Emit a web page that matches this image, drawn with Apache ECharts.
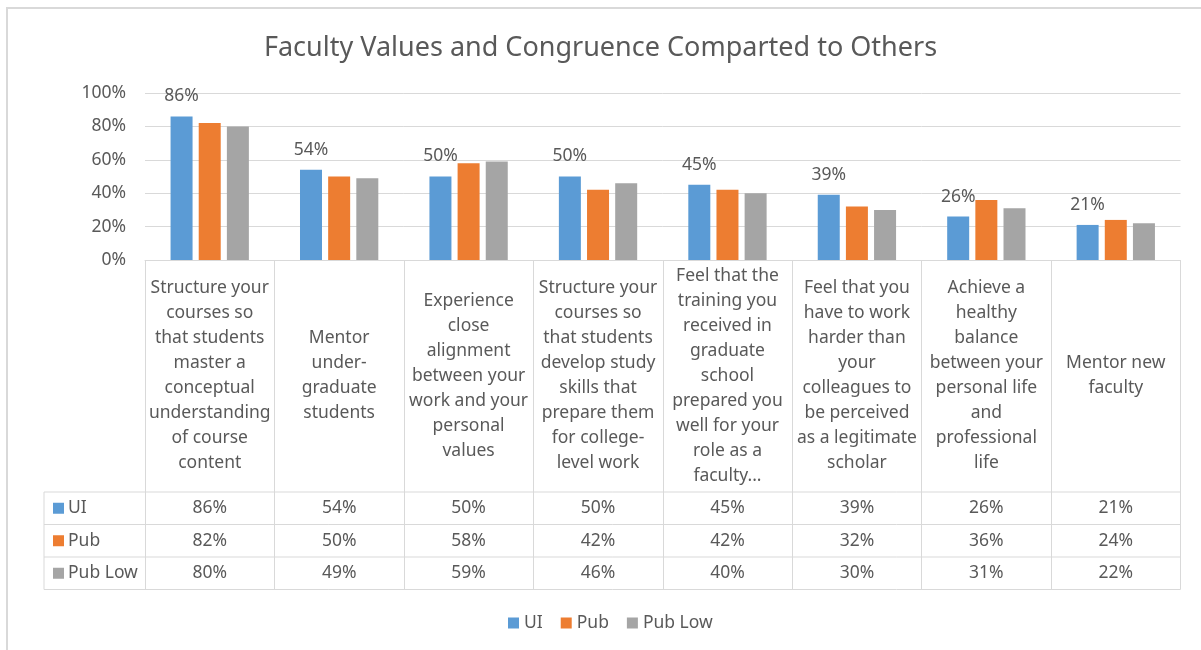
<!DOCTYPE html>
<html>
<head>
<meta charset="utf-8">
<title>Faculty Values</title>
<script src="https://cdn.jsdelivr.net/npm/echarts@6/dist/echarts.min.js"></script>
<style>
  html, body { margin: 0; padding: 0; background: #fff; }
  #chart { width: 1201px; height: 650px; }
</style>
</head>
<body>
<div id="chart"></div>
<script>
var categories = [
  "Structure your\ncourses so\nthat students\nmaster a\nconceptual\nunderstanding\nof course\ncontent",
  "Mentor\nunder-\ngraduate\nstudents",
  "Experience\nclose\nalignment\nbetween your\nwork and your\npersonal\nvalues",
  "Structure your\ncourses so\nthat students\ndevelop study\nskills that\nprepare them\nfor college-\nlevel work",
  "Feel that the\ntraining you\nreceived in\ngraduate\nschool\nprepared you\nwell for your\nrole as a\nfaculty...",
  "Feel that you\nhave to work\nharder than\nyour\ncolleagues to\nbe perceived\nas a legitimate\nscholar",
  "Achieve a\nhealthy\nbalance\nbetween your\npersonal life\nand\nprofessional\nlife",
  "Mentor new\nfaculty"
];
var seriesNames = ["UI", "Pub", "Pub Low"];
var seriesColors = ["#5B9BD5", "#ED7D31", "#A5A5A5"];
var uiValues = [0.86, 0.54, 0.50, 0.50, 0.45, 0.39, 0.26, 0.21];
var pubValues = [0.82, 0.50, 0.58, 0.42, 0.42, 0.32, 0.36, 0.24];
var pubLowValues = [0.80, 0.49, 0.59, 0.46, 0.40, 0.30, 0.31, 0.22];
var allValues = [uiValues, pubValues, pubLowValues];

var font = "Noto Sans";
var textColor = "#595959";
var lineColor = "#D9D9D9";
var fs = 17.5;

// table layout
var plotLeft = 145, plotRight = 1180.5, plotTop = 93, plotBottom = 260;
var tableLeft = 44;
var rowLines = [492, 524.5, 557, 589.5];

function pct(v) { return Math.round(v * 100) + "%"; }

var xAxes = [{
  type: "category",
  data: categories,
  position: "bottom",
  axisLine: { lineStyle: { color: lineColor, width: 1 } },
  axisTick: { show: true, length: rowLines[3] - plotBottom, lineStyle: { color: lineColor } },
  axisLabel: {
    interval: 0, fontFamily: font, fontSize: fs, color: textColor,
    lineHeight: 25, verticalAlign: "middle", align: "center",
    margin: 376 - plotBottom
  }
}];
allValues.forEach(function (vals, i) {
  xAxes.push({
    type: "category",
    data: vals.map(pct),
    position: "bottom",
    offset: rowLines[i] - plotBottom,
    axisLine: { show: false },
    axisTick: { show: false },
    axisLabel: {
      interval: 0, fontFamily: font, fontSize: fs, color: textColor,
      verticalAlign: "middle", margin: 16.5
    }
  });
});

var graphics = [{
  type: "rect", silent: true,
  shape: { x: 7, y: 8, width: 1400, height: 1000 },
  style: { fill: "none", stroke: lineColor, lineWidth: 2 }
}];
rowLines.forEach(function (y) {
  graphics.push({
    type: "line", silent: true,
    shape: { x1: tableLeft, y1: y, x2: plotRight, y2: y },
    style: { stroke: lineColor, lineWidth: 1 }
  });
});
graphics.push({
  type: "line", silent: true,
  shape: { x1: tableLeft, y1: rowLines[0], x2: tableLeft, y2: rowLines[3] },
  style: { stroke: lineColor, lineWidth: 1 }
});
seriesNames.forEach(function (name, i) {
  var cy = (rowLines[i] + rowLines[i + 1]) / 2;
  graphics.push({
    type: "rect", silent: true,
    shape: { x: 53, y: cy - 5.5, width: 11, height: 11 },
    style: { fill: seriesColors[i] }
  });
  graphics.push({
    type: "text", silent: true,
    x: 68, y: cy,
    style: { text: name, fontFamily: font, fontSize: fs, fill: textColor, verticalAlign: "middle" }
  });
});

var series = allValues.map(function (vals, i) {
  return {
    name: seriesNames[i],
    type: "bar",
    data: vals,
    barWidth: 22,
    barGap: "28%",
    itemStyle: { color: seriesColors[i] },
    label: i === 0 ? {
      show: true, position: "top", distance: 11,
      fontFamily: font, fontSize: fs, color: textColor,
      formatter: function (p) { return pct(p.value); }
    } : { show: false }
  };
});

var myChart = echarts.init(document.getElementById("chart"));
myChart.setOption({
  animation: false,
  title: {
    text: "Faculty Values and Congruence Comparted to Others",
    left: "center", top: 30,
    textStyle: { fontFamily: font, fontSize: 27, fontWeight: "normal", color: textColor }
  },
  legend: {
    data: seriesNames,
    top: 609, left: 503,
    icon: "rect", itemWidth: 11, itemHeight: 11, itemGap: 18, itemTextGap: 5,
    textStyle: { fontFamily: font, fontSize: fs, color: textColor }
  },
  grid: { left: plotLeft, right: 1201 - plotRight, top: plotTop, height: plotBottom - plotTop },
  xAxis: xAxes,
  yAxis: {
    type: "value", min: 0, max: 1, interval: 0.2,
    axisLine: { show: false }, axisTick: { show: false },
    splitLine: { lineStyle: { color: lineColor } },
    axisLabel: {
      fontFamily: font, fontSize: fs, color: textColor, margin: 19,
      formatter: function (v) { return pct(v); }
    }
  },
  series: series,
  graphic: graphics
});
</script>
</body>
</html>
